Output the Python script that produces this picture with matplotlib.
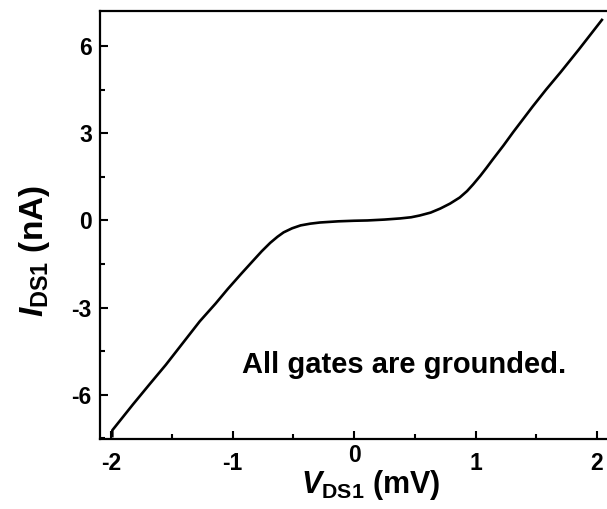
import numpy as np
import matplotlib
matplotlib.use("Agg")
import matplotlib.pyplot as plt
from matplotlib.ticker import MultipleLocator

plt.rcParams['font.family'] = 'Liberation Sans'
plt.rcParams['font.weight'] = 'bold'
plt.rcParams['axes.unicode_minus'] = False
plt.rcParams['mathtext.fontset'] = 'custom'
plt.rcParams['mathtext.it'] = 'Liberation Sans:italic:bold'
plt.rcParams['mathtext.rm'] = 'Liberation Sans:bold'
plt.rcParams['mathtext.bf'] = 'Liberation Sans:bold'

# I-V curve
v_ds = [-1.99, -1.99, -1.82, -1.68, -1.55, -1.41, -1.27, -1.14, -1.04, -0.93,
        -0.83, -0.76, -0.69, -0.63, -0.58, -0.51, -0.44, -0.36, -0.28, -0.13,
        0.00, 0.11, 0.25, 0.38, 0.47, 0.54, 0.63, 0.71, 0.79, 0.87, 0.93,
        0.98, 1.04, 1.09, 1.14, 1.23, 1.31, 1.47, 1.58, 1.70, 1.85, 2.04]
i_ds = [-7.42, -7.22, -6.33, -5.62, -4.97, -4.22, -3.47, -2.86, -2.36, -1.84,
        -1.38, -1.06, -0.77, -0.56, -0.41, -0.27, -0.17, -0.11, -0.07, -0.03,
        -0.01, 0.00, 0.03, 0.07, 0.11, 0.17, 0.27, 0.41, 0.58, 0.79, 1.01,
        1.24, 1.54, 1.81, 2.09, 2.58, 3.04, 3.92, 4.50, 5.10, 5.88, 6.90]

xticks = [-2, -1, 0, 1, 2]
xticklabels = ['-2', '-1', '', '1', '2']   # the "0" is drawn a bit higher, see below
yticks = [-6, -3, 0, 3, 6]

fig = plt.figure(figsize=(6.07, 5.09), dpi=100)
ax = fig.add_axes([0.165, 0.1375, 0.84, 0.8405])

ax.plot(v_ds, i_ds, color='black', lw=1.9)

ax.set_xlim(-2.09, 2.107)
ax.set_ylim(-7.52, 7.2)
ax.set_xticks(xticks)
ax.set_xticklabels(xticklabels)
ax.set_yticks(yticks)
ax.xaxis.set_minor_locator(MultipleLocator(0.5))
ax.yaxis.set_minor_locator(MultipleLocator(1.5))
ax.tick_params(which='major', direction='in', length=6, width=1.5, labelsize=16.5, pad=9)
ax.tick_params(axis='y', which='major', pad=6)
ax.tick_params(which='minor', direction='in', length=3.5, width=1.5)
ax.tick_params(top=False, right=False, which='both')
for s in ax.spines.values():
    s.set_linewidth(1.6)
ax.spines['right'].set_visible(False)

# raised "0" label so it clears the axis title
ax.annotate('0', xy=(0, 0), xycoords=('data', 'axes fraction'),
            xytext=(0, -3.5), textcoords='offset points',
            ha='center', va='top', fontsize=16.5, fontweight='bold')

ax.set_xlabel(r'$\mathit{V}_{\mathrm{DS1}}$ (mV)', fontsize=22, fontweight='bold')
ax.set_ylabel(r'$\mathit{I}_{\mathrm{DS1}}$ (nA)', fontsize=24, fontweight='bold')
ax.xaxis.set_label_coords(0.531, -0.068)
ax.yaxis.set_label_coords(-0.094, 0.44)

ax.text(0.41, -5.24, 'All gates are grounded.', fontsize=21, fontweight='bold',
        ha='center', va='baseline')

fig.savefig('out.png', dpi=100)
